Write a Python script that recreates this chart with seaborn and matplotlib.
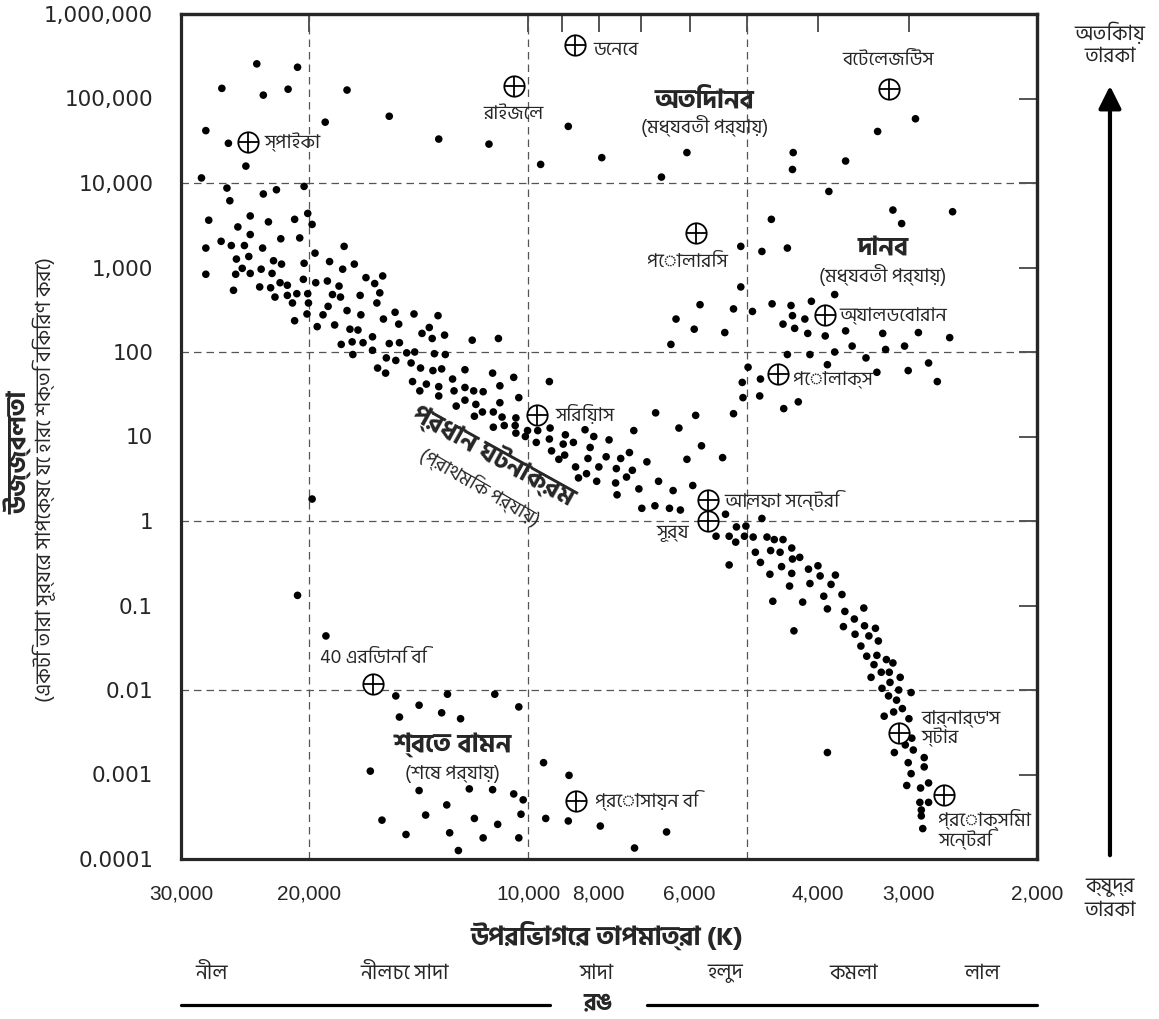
import numpy as np
import pandas as pd
import matplotlib
matplotlib.use("Agg")
import matplotlib.pyplot as plt
import seaborn as sns
from matplotlib.lines import Line2D
from matplotlib.ticker import NullLocator, NullFormatter

# star positions: (log10 temperature K, log10 luminosity L_sun)
supergiants = [
    (4.373, 5.41), (4.317, 5.37), (4.421, 5.12), (4.364, 5.04), (4.330, 5.11), (4.249, 5.10),
    (4.279, 4.72), (4.191, 4.79), (4.443, 4.62), (4.412, 4.47), (4.123, 4.52), (4.054, 4.46),
    (3.945, 4.67), (3.983, 4.22), (3.899, 4.30), (3.782, 4.36), (3.817, 4.07), (3.636, 4.36),
    (3.637, 4.16), (3.564, 4.26), (3.520, 4.61), (3.468, 4.76),
]
giants = [
    (3.587, 3.90), (3.499, 3.68), (3.487, 3.52), (3.417, 3.66), (3.666, 3.57), (3.708, 3.25),
    (3.679, 3.19), (3.644, 3.23), (3.708, 2.77), (3.579, 2.68),
    (3.797, 2.39), (3.764, 2.56), (3.772, 2.27), (3.730, 2.23), (3.718, 2.51), (3.804, 2.09),
    (3.692, 2.48), (3.665, 2.57), (3.639, 2.55), (3.611, 2.60), (3.637, 2.43), (3.620, 2.39),
    (3.650, 2.33), (3.634, 2.28), (3.616, 2.22), (3.592, 2.19), (3.564, 2.25), (3.513, 2.22),
    (3.464, 2.23), (3.421, 2.17), (3.644, 1.97), (3.613, 1.97), (3.579, 2.00), (3.555, 2.07),
    (3.509, 2.03), (3.483, 2.07), (3.536, 1.93), (3.589, 1.85), (3.521, 1.76), (3.478, 1.78),
    (3.450, 1.87), (3.438, 1.65), (3.698, 1.82), (3.681, 1.68), (3.706, 1.64), (3.705, 1.46),
    (3.682, 1.48), (3.649, 1.33), (3.629, 1.41), (3.718, 1.27),
]
main_sequence = [
    (4.388, 4.20), (4.449, 4.06), (4.414, 3.94), (4.364, 3.87), (4.346, 3.92), (4.308, 3.96),
    (4.410, 3.79), (4.439, 3.56), (4.382, 3.61), (4.357, 3.54), (4.321, 3.57), (4.303, 3.64),
    (4.297, 3.51), (4.399, 3.48), (4.382, 3.39), (4.340, 3.34), (4.314, 3.35), (4.422, 3.31),
    (4.443, 3.23), (4.408, 3.26), (4.390, 3.26), (4.365, 3.23), (4.253, 3.25), (4.293, 3.17),
    (4.401, 3.10), (4.384, 3.13), (4.350, 3.08), (4.339, 3.04), (4.308, 3.05), (4.273, 3.07),
    (4.255, 2.98), (4.239, 3.04), (4.443, 2.92), (4.402, 2.92), (4.393, 2.99), (4.382, 2.93),
    (4.367, 2.98), (4.352, 2.93), (4.341, 2.82), (4.331, 2.79), (4.309, 2.86), (4.292, 2.82),
    (4.276, 2.84), (4.260, 2.78), (4.223, 2.88), (4.211, 2.81), (4.200, 2.90), (4.405, 2.73),
    (4.369, 2.77), (4.354, 2.76), (4.348, 2.65), (4.331, 2.67), (4.318, 2.69), (4.303, 2.69),
    (4.269, 2.68), (4.258, 2.65), (4.231, 2.67), (4.204, 2.70),
    (4.302, 2.58), (4.324, 2.58), (4.208, 2.58), (4.275, 2.54), (4.321, 2.37), (4.304, 2.45),
    (4.282, 2.44), (4.290, 2.30), (4.266, 2.32), (4.249, 2.49), (4.230, 2.44), (4.245, 2.27),
    (4.234, 2.26), (4.199, 2.39), (4.183, 2.47), (4.178, 2.33), (4.157, 2.45), (4.124, 2.43),
    (4.136, 2.29), (4.146, 2.22), (4.132, 2.16), (4.115, 2.20), (4.077, 2.14), (4.041, 2.16),
    (4.257, 2.09), (4.242, 2.12), (4.227, 2.11), (4.214, 2.18), (4.241, 1.97), (4.214, 2.02),
    (4.191, 2.10), (4.177, 2.11), (4.167, 1.99), (4.156, 2.00), (4.129, 1.98), (4.114, 1.97),
    (4.195, 1.93), (4.182, 1.90), (4.161, 1.87), (4.207, 1.81), (4.196, 1.75), (4.148, 1.81),
    (4.131, 1.78), (4.119, 1.80), (4.087, 1.79), (4.049, 1.75), (4.020, 1.70), (3.971, 1.65),
    (4.159, 1.65), (4.140, 1.62), (4.149, 1.54), (4.123, 1.59), (4.123, 1.48), (4.104, 1.68),
    (4.102, 1.54), (4.087, 1.58), (4.075, 1.54), (4.062, 1.53), (4.039, 1.60), (4.013, 1.46),
    (4.099, 1.36), (4.087, 1.43), (4.072, 1.38), (4.063, 1.29), (4.048, 1.29), (4.039, 1.40),
    (4.074, 1.24), (4.036, 1.23), (4.017, 1.22), (4.048, 1.11), (4.033, 1.13), (4.018, 1.13),
    (4.017, 1.04), (4.004, 1.00), (4.001, 1.07), (3.987, 1.07), (3.989, 0.93), (3.971, 0.97),
    (3.970, 1.10), (3.968, 0.83), (3.958, 0.73), (3.952, 0.91), (3.949, 1.02), (3.950, 0.78),
    (3.938, 0.93), (3.922, 1.08), (3.910, 1.00), (3.915, 0.87), (3.918, 0.74), (3.935, 0.64),
    (3.931, 0.51), (3.920, 0.56), (3.906, 0.47), (3.903, 0.64), (4.297, 0.26),
    (3.770, 1.25), (3.825, 1.28), (3.855, 1.07), (3.793, 1.10), (3.762, 0.89), (3.782, 0.73),
    (3.733, 0.75), (3.889, 0.96), (3.893, 0.76), (3.873, 0.74), (3.861, 0.81), (3.837, 0.70),
    (3.879, 0.62), (3.857, 0.60), (3.865, 0.52), (3.880, 0.45), (3.878, 0.31), (3.848, 0.38),
    (3.821, 0.47), (3.801, 0.36), (3.774, 0.42), (3.844, 0.15), (3.826, 0.18), (3.806, 0.15),
    (3.791, 0.13), (3.729, 0.08), (3.714, -0.07), (3.701, -0.06), (3.679, 0.03), (3.742, -0.18),
    (3.724, -0.18), (3.715, -0.25), (3.703, -0.18), (3.691, -0.19), (3.672, -0.19), (3.662, -0.22),
    (3.650, -0.22), (3.688, -0.37), (3.667, -0.35), (3.654, -0.37), (3.638, -0.32), (3.637, -0.45),
    (3.627, -0.43), (3.724, -0.52), (3.681, -0.49), (3.652, -0.54), (3.602, -0.53), (3.615, -0.57),
    (3.668, -0.63), (3.638, -0.62), (3.599, -0.65), (3.578, -0.64), (3.641, -0.77), (3.613, -0.74),
    (3.584, -0.75), (3.664, -0.95), (3.623, -0.96), (3.594, -0.89), (3.569, -0.87), (3.589, -1.04),
    (3.565, -1.07), (3.539, -1.03), (3.635, -1.30), (3.567, -1.25), (3.552, -1.16), (3.538, -1.24),
    (3.523, -1.27), (3.551, -1.34), (3.532, -1.36), (3.519, -1.42), (3.543, -1.48), (3.535, -1.60),
    (3.521, -1.59), (3.508, -1.64), (3.499, -1.68), (3.525, -1.70), (3.515, -1.79), (3.504, -1.79),
    (3.489, -1.85), (3.529, -1.85), (3.514, -1.98), (3.503, -1.91), (3.491, -2.00), (3.474, -2.03),
    (3.505, -2.07), (3.494, -2.12), (3.511, -2.31), (3.498, -2.26), (3.486, -2.22), (3.477, -2.34),
    (3.589, -2.74), (3.497, -2.74), (3.482, -2.65), (3.473, -2.57), (3.471, -2.71), (3.456, -2.80),
    (3.478, -2.86), (3.456, -2.91), (3.474, -2.99), (3.450, -3.10), (3.480, -3.13), (3.461, -3.16),
    (3.462, -3.33), (3.450, -3.33), (3.460, -3.42), (3.460, -3.49), (3.458, -3.64),
]
white_dwarfs = [
    (4.317, -0.88), (4.278, -1.36), (4.182, -2.07), (4.150, -2.18), (4.111, -2.05), (4.046, -2.05),
    (4.119, -2.27), (4.177, -2.32), (4.093, -2.34), (4.013, -2.20), (4.217, -2.96), (3.979, -2.86),
    (3.944, -3.01), (4.150, -3.19), (4.081, -3.17), (4.049, -3.18), (4.020, -3.23), (4.007, -3.30),
    (4.112, -3.36), (4.141, -3.48), (4.201, -3.54), (4.074, -3.52), (4.042, -3.59), (4.010, -3.47),
    (3.976, -3.52), (3.945, -3.55), (4.168, -3.71), (4.108, -3.69), (4.062, -3.75), (4.013, -3.75),
    (4.096, -3.90), (3.901, -3.61), (3.854, -3.87), (3.810, -3.68),
]

# named stars
star_names = ["স্পাইকা", "রাইজেল", "ডেনেব", "বেটেলজিউস", "পোলারিস", "অ্যালডেবারান", "পোলাক্স",
              "সিরিয়াস", "আলফা সেন্টরি", "সূর্য", "40 এরিডানি বি", "প্রোসায়ন বি",
              "বার্নার্ড'স\nস্টার", "প্রোক্সিমা\nসেন্টরি"]
star_log_t = [4.385, 4.020, 3.936, 3.505, 3.770, 3.592, 3.657, 3.988, 3.753, 3.753, 4.213, 3.935, 3.490, 3.429]
star_log_l = [4.48, 5.15, 5.63, 5.11, 3.41, 2.44, 1.74, 1.26, 0.25, 0.00, -1.93, -3.31, -2.51, -3.24]

x_major = [30000, 20000, 10000, 8000, 6000, 4000, 3000, 2000]
x_labels = ["30,000", "20,000", "10,000", "8,000", "6,000", "4,000", "3,000", "2,000"]
x_minor = [9000, 7000, 5000]
y_ticks = [1e-4, 1e-3, 1e-2, 1e-1, 1, 10, 100, 1e3, 1e4, 1e5, 1e6]
y_labels = ["0.0001", "0.001", "0.01", "0.1", "1", "10", "100", "1,000", "10,000", "100,000", "1,000,000"]
colour_names = ["নীল", "নীলচে সাদা", "সাদা", "হলুদ", "কমলা", "লাল"]

# label placement for the named stars: (dx pt, dy pt, ha)
label_pos = [(12, 0, "left"), (0, -20, "center"), (13, -3, "left"), (0, 21, "center"),
             (-6, -21, "center"), (10, -1, "left"), (11, -5, "left"), (13, 0, "left"),
             (12, 0, "left"), (-14, -9, "right"), (0, 19, "center"), (14, 0, "left"),
             (16, 3, "left"), (-4, -25, "left")]

sns.set_style("white")
plt.rcParams["font.family"] = ["DejaVu Sans"]
BN = ["Hind Siliguri", "DejaVu Sans"]

df = pd.DataFrame(supergiants + giants + main_sequence + white_dwarfs, columns=["log_t", "log_l"])
df["temp"] = 10 ** df.log_t
df["lum"] = 10 ** df.log_l
named = pd.DataFrame({"name": star_names, "temp": 10 ** np.array(star_log_t),
                      "lum": 10 ** np.array(star_log_l)})

fig = plt.figure(figsize=(11.59, 10.19), dpi=100)
ax = fig.add_axes([181 / 1159, 160 / 1019, 856 / 1159, 845 / 1019])

sns.scatterplot(data=df, x="temp", y="lum", color="black", s=30, edgecolor="none",
                legend=False, ax=ax, zorder=3)
sns.scatterplot(data=named, x="temp", y="lum", marker="o", s=215, facecolor="white",
                edgecolor="black", linewidth=1.3, legend=False, ax=ax, zorder=4)
ax.scatter(named.temp, named.lum, marker="+", s=215, color="black", linewidths=1.3, zorder=5)

ax.set_xscale("log")
ax.set_yscale("log")
ax.set_xlim(30000, 2000)
ax.set_ylim(1e-4, 1e6)
ax.set_xlabel("")
ax.set_ylabel("")

for v in [20000, 10000, 5000]:
    ax.axvline(v, color="#555555", lw=0.9, ls=(0, (6, 4)), zorder=1)
for h in [1e4, 1e2, 1, 1e-2]:
    ax.axhline(h, color="#555555", lw=0.9, ls=(0, (6, 4)), zorder=1)

ax.set_xticks(x_major, labels=x_labels)
ax.set_xticks(x_minor, minor=True)
ax.xaxis.set_minor_formatter(NullFormatter())
ax.set_yticks(y_ticks, labels=y_labels)
ax.yaxis.set_minor_locator(NullLocator())
ax.tick_params(which="both", direction="out", length=13, width=1.1, top=False, right=False)
ax.tick_params(axis="x", pad=5, labelsize=15)
ax.tick_params(axis="y", pad=7, labelsize=15.5)
for lab in ax.get_xticklabels():
    lab.set_fontfamily(["Liberation Sans", "DejaVu Sans"])
for sp in ax.spines.values():
    sp.set_linewidth(2.3)

# inward ticks on the top and right edges
secx = ax.secondary_xaxis("top")
secx.set_xticks(x_major + x_minor)
secx.xaxis.set_minor_locator(NullLocator())
secx.tick_params(direction="in", length=13, width=1.1, labeltop=False)
secx.spines["top"].set_linewidth(2.3)
secy = ax.secondary_yaxis("right")
secy.set_yticks(y_ticks)
secy.yaxis.set_minor_locator(NullLocator())
secy.tick_params(direction="in", length=13, width=1.1, labelright=False)
secy.spines["right"].set_linewidth(2.3)

for (name, t, l), (dx, dy, ha) in zip(named[["name", "temp", "lum"]].values, label_pos):
    ax.annotate(name, (t, l), xytext=(dx, dy), textcoords="offset points", ha=ha,
                va="center", fontsize=14, style="italic", family=BN, zorder=6,
                linespacing=0.95)

# region labels
ax.text(0.611, 0.898, "অতিদানব", transform=ax.transAxes, ha="center", va="center",
        fontsize=19, fontweight="bold", family=BN)
ax.text(0.612, 0.867, "(মধ্যবতী পর্যায়)", transform=ax.transAxes, ha="center",
        va="center", fontsize=14, family=BN)
ax.text(0.820, 0.723, "দানব", transform=ax.transAxes, ha="center", va="center",
        fontsize=19, fontweight="bold", family=BN)
ax.text(0.820, 0.691, "(মধ্যবতী পর্যায়)", transform=ax.transAxes, ha="center",
        va="center", fontsize=14, family=BN)
ax.text(0.366, 0.478, "প্রধান ঘটনাক্রম", transform=ax.transAxes, ha="center",
        va="center", fontsize=19, fontweight="bold", rotation=-29,
        rotation_mode="anchor", family=BN)
ax.text(0.349, 0.440, "(প্রাথমিক পর্যায়)", transform=ax.transAxes, ha="center",
        va="center", fontsize=14, rotation=-30, rotation_mode="anchor", family=BN)
ax.text(0.317, 0.135, "শ্বেত বামন", transform=ax.transAxes, ha="center", va="center",
        fontsize=19, fontweight="bold", family=BN)
ax.text(0.317, 0.101, "(শেষ পর্যায়)", transform=ax.transAxes, ha="center",
        va="center", fontsize=14, family=BN)

# axis titles
fig.text(0.0155, 0.556, "উজ্জ্বলতা", rotation=90, ha="center", va="center",
         fontsize=19, fontweight="bold", family=BN)
fig.text(0.0385, 0.529, "(একটি তারা সূর্যের সাপেক্ষে যে হারে শক্তি বিকিরণ করে)",
         rotation=90, ha="center", va="center", fontsize=15, family=BN)
fig.text(0.5237, 0.0824, "উপরিভাগের তাপমাত্রা (K)", ha="center", va="center",
         fontsize=19, fontweight="bold", family=BN)

# colour band under the axis
for name, x in zip(colour_names, [211.7, 405, 596.7, 725, 853.3, 982.7]):
    fig.text(x / 1159, 0.0451, name, ha="center", va="center", fontsize=15, family=BN)
fig.add_artist(Line2D([181 / 1159, 550 / 1159], [0.0137, 0.0137], color="black", lw=2.3))
fig.add_artist(Line2D([647 / 1159, 1037 / 1159], [0.0137, 0.0137], color="black", lw=2.3))
fig.text(0.516, 0.0157, "রঙ", ha="center", va="center", fontsize=17, fontweight="bold",
         family=BN)

# size arrow on the right
ax.annotate("", xy=(0.9577, 0.9185), xytext=(0.9577, 0.158), xycoords="figure fraction",
            textcoords="figure fraction", annotation_clip=False,
            arrowprops=dict(arrowstyle="-|>", lw=3, color="black", mutation_scale=34))
fig.text(0.9577, 0.9568, "অতিকায়\nতারকা", ha="center", va="center", fontsize=15,
         family=BN, linespacing=1.2)
fig.text(0.9577, 0.1178, "ক্ষুদ্র\nতারকা", ha="center", va="center", fontsize=15,
         family=BN, linespacing=1.2)

fig.savefig("out.png", dpi=100)
